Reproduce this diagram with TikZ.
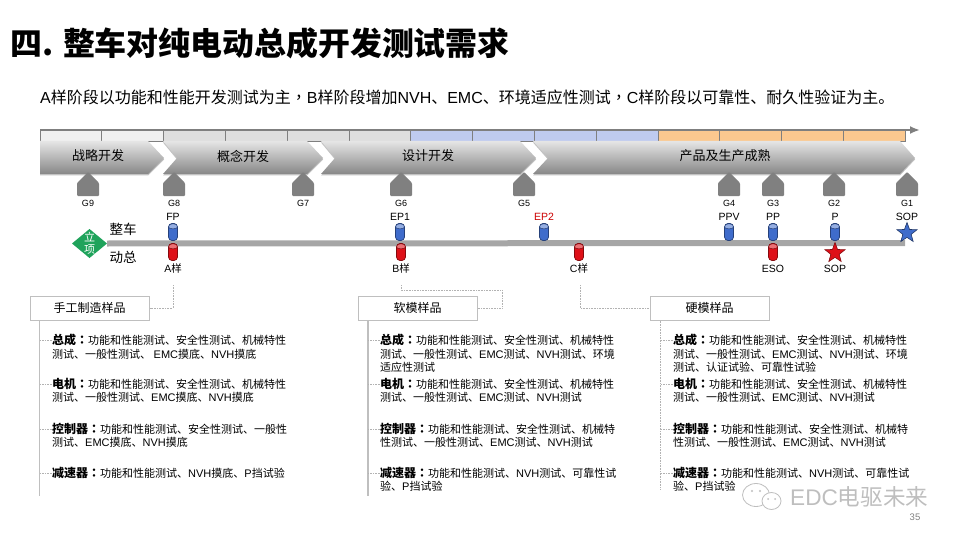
\documentclass[tikz,border=0pt]{standalone}
\usepackage{fontspec}
\setmainfont{Noto Sans CJK SC}
\newfontfamily\latinfont{Liberation Sans}
\newfontfamily\punctfont{Noto Sans CJK TC}
\newcommand{\latn}[1]{{\latinfont #1}}
\newcommand{\dou}{{\punctfont ，}}
\newcommand{\spechead}[1]{{\bfseries\fontsize{12}{13.4}\selectfont #1{\punctfont ：}}}
\usetikzlibrary{arrows.meta,calc,positioning,shapes.geometric,shapes.symbols,shadows}
\definecolor{ruleteal}{HTML}{D6EAEC}
\definecolor{cellgray}{HTML}{7F7F7F}
\definecolor{cellblue}{HTML}{BFCBEF}
\definecolor{cellorange}{HTML}{FBC88F}
\definecolor{milegray}{HTML}{808080}
\definecolor{linegray}{HTML}{A6A6A6}
\definecolor{cylblue}{HTML}{3F6CCB}
\definecolor{cylred}{HTML}{DE1018}
\definecolor{startgreen}{HTML}{1FA35B}
\definecolor{boxgray}{HTML}{BFBFBF}
\definecolor{markgray}{HTML}{BEBEBE}

\begin{document}
\begin{tikzpicture}[x=1pt, y=-1pt, >={Latex[length=10pt,width=8pt]},
 cell/.style     = {draw=cellgray, line width=0.8pt, rectangle, anchor=north west, inner sep=0pt, outer sep=0pt,
                    minimum width=61.8pt, minimum height=11pt},
 chevron/.style  = {top color=black!10, bottom color=black!47, drop shadow={shadow xshift=0pt, shadow yshift=-1.5pt, fill=black!40, opacity=.6}},
 phase/.style    = {font=\fontsize{13}{15}\selectfont},
 mile/.style     = {signal, signal to=north, signal from=nowhere, signal pointer angle=90, fill=milegray, rounded corners=1pt,
                    minimum width=22pt, minimum height=13pt, inner sep=0pt, outer sep=0pt},
 milelabel/.style= {font=\fontsize{9}{10}\selectfont\latinfont, inner sep=0pt, text height=7pt, text depth=0pt},
 tag/.style      = {font=\fontsize{10.5}{12}\selectfont\latinfont, inner sep=0pt, text height=8pt, text depth=2pt},
 cylb/.style     = {rectangle, rounded corners=3.5pt, draw=cylblue!60!black, line width=0.7pt, fill=cylblue,
                    minimum height=17pt, minimum width=9pt, inner sep=0pt, outer sep=0pt,
                    path picture={\draw [fill=cylblue!55, draw=cylblue!60!black, line width=0.5pt]
                                  ([yshift=-2.8pt]path picture bounding box.north) ellipse (5 and 2.6);}},
 cylr/.style     = {rectangle, rounded corners=3.5pt, draw=cylred!60!black, line width=0.7pt, fill=cylred,
                    minimum height=17pt, minimum width=9pt, inner sep=0pt, outer sep=0pt,
                    path picture={\draw [fill=cylred!60, draw=cylred!60!black, line width=0.5pt]
                                  ([yshift=-2.8pt]path picture bounding box.north) ellipse (5 and 2.6);}},
 starb/.style    = {star, star points=5, star point ratio=2.4, draw=cylblue!50!black, fill=cylblue, line width=0.6pt, minimum size=21pt, inner sep=0pt, outer sep=0pt},
 starr/.style    = {starb, draw=cylred!60!black, fill=cylred},
 sample/.style   = {draw=boxgray, line width=1pt, fill=white, rectangle, minimum width=119pt, minimum height=24pt, inner sep=0pt,
                    font=\fontsize{12}{14}\selectfont},
 spec/.style     = {anchor=north west, align=left, inner sep=0pt, font=\fontsize{11}{13.4}\selectfont},
 dotline/.style  = {draw=black!30, densely dotted, line width=0.6pt},
 barline/.style  = {draw=boxgray, line width=1pt},
 ]

    \useasboundingbox (0,0) rectangle (960,540);

    \node [anchor=west, inner sep=0pt, font=\fontsize{31.9}{36}\selectfont\bfseries] (title) at (10,43) {四. 整车对纯电动总成开发测试需求};
    \shade [left color=white, middle color=ruleteal, right color=white] (0,72) rectangle (960,74.5);
    \node [anchor=west, inner sep=0pt, font=\fontsize{16}{18}\selectfont] (intro) at (40,97)
          {\latn{A}样阶段以功能和性能开发测试为主\dou\latn{B}样阶段增加\latn{NVH}、\latn{EMC}、环境适应性测试\dou\latn{C}样阶段以可靠性、耐久性验证为主。};

    \node [cell, fill=black!6]                  (c1)  at (40,130) {};
    \node [cell, fill=black!6,  right=0pt of c1]  (c2)  {};
    \node [cell, fill=black!13, right=0pt of c2]  (c3)  {};
    \node [cell, fill=black!13, right=0pt of c3]  (c4)  {};
    \node [cell, fill=black!13, right=0pt of c4]  (c5)  {};
    \node [cell, fill=black!13, right=0pt of c5]  (c6)  {};
    \node [cell, fill=cellblue, right=0pt of c6]  (c7)  {};
    \node [cell, fill=cellblue, right=0pt of c7]  (c8)  {};
    \node [cell, fill=cellblue, right=0pt of c8]  (c9)  {};
    \node [cell, fill=cellblue, right=0pt of c9]  (c10) {};
    \node [cell, fill=cellorange, right=0pt of c10] (c11) {};
    \node [cell, fill=cellorange, right=0pt of c11] (c12) {};
    \node [cell, fill=cellorange, right=0pt of c12] (c13) {};
    \node [cell, fill=cellorange, right=0pt of c13] (c14) {};
    \coordinate (axisend) at (920,130);
    \draw [->, draw=cellgray, line width=2.4pt] (c1.north west) -- (axisend);

    \path [chevron] (40,141) -- (148,141) -- (164,158) -- (148,174) -- (40,174) -- cycle;
    \path [chevron] (163,141) -- (307,141) -- (323,158) -- (307,174) -- (163,174) -- (177,158) -- cycle;
    \path [chevron] (321,141) -- (520,141) -- (536,158) -- (520,174) -- (321,174) -- (335,158) -- cycle;
    \path [chevron] (533,141) -- (900,141) -- (915,158) -- (900,174) -- (533,174) -- (548,158) -- cycle;
    \node [phase] (p1) at (98,156)  {战略开发};
    \node [phase] (p2) at (243,156) {概念开发};
    \node [phase] (p3) at (428,156) {设计开发};
    \node [phase] (p4) at (725,156) {产品及生产成熟};

    \node [mile] (g9) at (88,189.5)  {};
    \node [mile] (g8) at (174,189.5) {};
    \node [mile] (g7) at (303,189.5) {};
    \node [mile] (g6) at (401,189.5) {};
    \node [mile] (g5) at (524,189.5) {};
    \node [mile] (g4) at (729,189.5) {};
    \node [mile] (g3) at (773,189.5) {};
    \node [mile] (g2) at (834,189.5) {};
    \node [mile] (g1) at (907,189.5) {};
    \node [milelabel, below=3pt of g9] (lg9) {G9};
    \node [milelabel, below=3pt of g8] (lg8) {G8};
    \node [milelabel, below=3pt of g7] (lg7) {G7};
    \node [milelabel, below=3pt of g6] (lg6) {G6};
    \node [milelabel, below=3pt of g5] (lg5) {G5};
    \node [milelabel, below=3pt of g4] (lg4) {G4};
    \node [milelabel, below=3pt of g3] (lg3) {G3};
    \node [milelabel, below=3pt of g2] (lg2) {G2};
    \node [milelabel, below=3pt of g1] (lg1) {G1};

    \node [diamond, fill=startgreen, minimum width=35pt, minimum height=29pt, inner sep=0pt, outer sep=0pt] (start) at (89.5,243.5) {};
    \node [align=center, text=white, inner sep=0pt, font=\fontsize{11}{12}\selectfont] (startlabel) at (start) {立\\项};
    \coordinate (lineend) at (905,243);
    \draw [draw=linegray, line width=6pt] (start.east) -- (lineend);
    \node [font=\fontsize{13.5}{15}\selectfont, inner sep=0pt] (veh) at (123,229) {整车};
    \node [font=\fontsize{13.5}{15}\selectfont, inner sep=0pt] (pwr) at (123,257) {动总};

    \node [cylb] (fp)  at (173,232) {};
    \node [cylb] (ep1) at (400,232) {};
    \node [cylb] (ep2) at (544,232) {};
    \node [cylb] (ppv) at (729,232) {};
    \node [cylb] (pp)  at (773,232) {};
    \node [cylb] (pz)  at (835,232) {};
    \node [starb] (sopb) at (907,233) {};
    \node [cylr] (sa) at (173,252) {};
    \node [cylr] (sb) at (401,252) {};
    \node [cylr] (sc) at (579,252) {};
    \node [cylr] (eso) at (773,252) {};
    \node [starr] (sopr) at (835,253) {};

    \node [tag, above=1pt of fp]  (lfp)  {FP};
    \node [tag, above=1pt of ep1] (lep1) {EP1};
    \node [tag, above=1pt of ep2, text=red!80!black] (lep2) {EP2};
    \node [tag, above=1pt of ppv] (lppv) {PPV};
    \node [tag, above=1pt of pp]  (lpp)  {PP};
    \node [tag, above=1pt of pz]  (lpz)  {P};
    \node [tag, above=0pt of sopb] (lsopb) {SOP};
    \node [tag, below=4pt of sa]  (lsa)  {A{\rmfamily 样}};
    \node [tag, below=4pt of sb]  (lsb)  {B{\rmfamily 样}};
    \node [tag, below=4pt of sc]  (lsc)  {C{\rmfamily 样}};
    \node [tag, below=4pt of eso] (leso) {ESO};
    \node [tag, below=7pt of sopr] (lsopr) {SOP};

    \node [sample] (hand) at (89.5,308) {手工制造样品};
    \node [sample] (soft) at (417.5,308) {软模样品};
    \node [sample] (hard) at (709.5,308) {硬模样品};

    \coordinate (atop) at (173,285);
    \coordinate (btop) at (401,285);
    \coordinate (bturn) at (502,290);
    \coordinate (ctop) at (580,285);
    \path [dotline] (atop)  |- (hand.east);
    \path [dotline] (btop)  |- (bturn);
    \path [dotline] (bturn) |- (soft.east);
    \path [dotline] (ctop)  |- (hard.west);

    \node [spec] (h1) at (52,334)  {\spechead{总成}功能和性能测试、安全性测试、机械特性\\测试、一般性测试、 \latn{EMC}摸底、\latn{NVH}摸底};
    \node [spec] (h2) at (52,378)  {\spechead{电机}功能和性能测试、安全性测试、机械特性\\测试、一般性测试、\latn{EMC}摸底、\latn{NVH}摸底};
    \node [spec] (h3) at (52,423)  {\spechead{控制器}功能和性能测试、安全性测试、一般性\\测试、\latn{EMC}摸底、\latn{NVH}摸底};
    \node [spec] (h4) at (52,467)  {\spechead{减速器}功能和性能测试、\latn{NVH}摸底、\latn{P}挡试验};

    \node [spec] (s1) at (380,334) {\spechead{总成}功能和性能测试、安全性测试、机械特性\\测试、一般性测试、\latn{EMC}测试、\latn{NVH}测试、环境\\适应性测试};
    \node [spec] (s2) at (380,378) {\spechead{电机}功能和性能测试、安全性测试、机械特性\\测试、一般性测试、\latn{EMC}测试、\latn{NVH}测试};
    \node [spec] (s3) at (380,423) {\spechead{控制器}功能和性能测试、安全性测试、机械特\\性测试、一般性测试、\latn{EMC}测试、\latn{NVH}测试};
    \node [spec] (s4) at (380,467) {\spechead{减速器}功能和性能测试、\latn{NVH}测试、可靠性试\\验、\latn{P}挡试验};

    \node [spec] (r1) at (673,334) {\spechead{总成}功能和性能测试、安全性测试、机械特性\\测试、一般性测试、\latn{EMC}测试、\latn{NVH}测试、环境\\测试、认证试验、可靠性试验};
    \node [spec] (r2) at (673,378) {\spechead{电机}功能和性能测试、安全性测试、机械特性\\测试、一般性测试、\latn{EMC}测试、\latn{NVH}测试};
    \node [spec] (r3) at (673,423) {\spechead{控制器}功能和性能测试、安全性测试、机械特\\性测试、一般性测试、\latn{EMC}测试、\latn{NVH}测试};
    \node [spec] (r4) at (673,467) {\spechead{减速器}功能和性能测试、\latn{NVH}测试、可靠性试\\验、\latn{P}挡试验};

    \coordinate (hbar) at (39.5,496);
    \coordinate (sbar) at (368,496);
    \coordinate (rbar) at (660.5,490);
    \path [barline] (hbar |- hand.south) -- (hbar);
    \path [barline, line width=1.6pt] (sbar |- soft.south) -- (sbar);
    \path [dotline] (rbar |- hard.south) -- (rbar);

    \path [dotline] ([yshift=-6pt]h1.north west) -- ++(-12,0)
                    ([yshift=-6pt]h2.north west) -- ++(-12,0)
                    ([yshift=-6pt]h3.north west) -- ++(-12,0)
                    ([yshift=-6pt]h4.north west) -- ++(-12,0)
                    ([yshift=-6pt]s1.north west) -- ++(-12,0)
                    ([yshift=-6pt]s2.north west) -- ++(-12,0)
                    ([yshift=-6pt]s3.north west) -- ++(-12,0)
                    ([yshift=-6pt]s4.north west) -- ++(-12,0)
                    ([yshift=-6pt]r1.north west) -- ++(-12,0)
                    ([yshift=-6pt]r2.north west) -- ++(-12,0)
                    ([yshift=-6pt]r3.north west) -- ++(-12,0)
                    ([yshift=-6pt]r4.north west) -- ++(-12,0);

    \draw [draw=markgray, fill=white, line width=0.8pt] (756,495) ellipse (13.5 and 11.5);
    \draw [draw=markgray, fill=white, line width=0.8pt] (771.5,501) ellipse (9.5 and 8.5);
    \fill [markgray] (752,491) circle (1.2) (760,491) circle (1.2) (768,499) circle (1) (775,499) circle (1);
    \node [anchor=west, inner sep=0pt, text=markgray, font=\fontsize{22.6}{24}\selectfont] (mark) at (790,497) {\latn{EDC}电驱未来};
    \node [inner sep=0pt, text=black!50, font=\fontsize{9.5}{11}\selectfont\latinfont] (pageno) at (915,517) {35};
\end{tikzpicture}
\end{document}
